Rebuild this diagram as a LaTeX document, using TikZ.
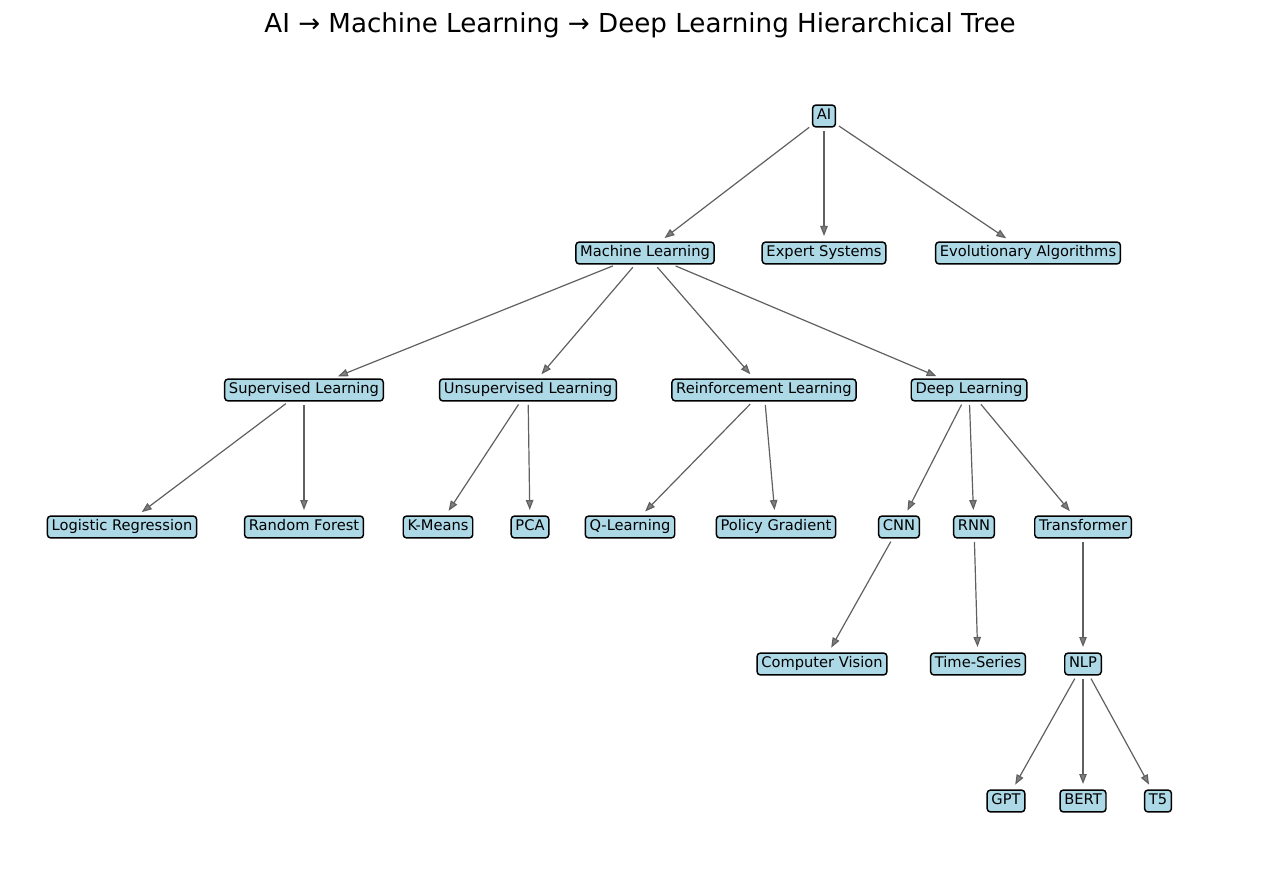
\documentclass[tikz,border=0pt]{standalone}
\usepackage{fontspec}
\setmainfont{DejaVu Sans}
\usetikzlibrary{arrows.meta}

\definecolor{boxblue}{HTML}{ADD8E6}
\definecolor{edgegray}{RGB}{96,96,96}

\tikzset{
  topic/.style={draw=black, fill=boxblue, line width=1.1pt, rounded corners=2.5pt,
    font=\fontsize{11}{13}\selectfont, inner xsep=3.2pt, inner ysep=3pt,
    text height=7.7pt, text depth=2.7pt},
  link/.style={draw=edgegray, line width=0.9pt, shorten <=2.5pt, shorten >=4pt,
    -{Triangle[length=7.5pt,width=5.6pt,fill=edgegray!80!white]}}
}

\begin{document}
\begin{tikzpicture}[x=0.75pt, y=-0.75pt]
\useasboundingbox (0,0) rectangle (1280,887);

\node at (640,25) {\fontsize{19.6}{23}\selectfont AI → Machine Learning → Deep Learning Hierarchical Tree};

% ( one row of nodes per level, y measured from the top )

\path[every node/.style={topic}]
(824,116) node(ai){AI}
(645,253) node(ml){Machine Learning}
(824,253) node(es){Expert Systems}
(1028,253) node(ea){Evolutionary Algorithms}
(304,390) node(sl){Supervised Learning}
(528,390) node(ul){Unsupervised Learning}
(764,390) node(rl){Reinforcement Learning}
(969,390) node(dl){Deep Learning}
(122,527) node(lr){Logistic Regression}
(304,527) node(rf){Random Forest}
(438,527) node(km){K-Means}
(530,527) node(pca){PCA}
(630,527) node(ql){Q-Learning}
(776,527) node(pg){Policy Gradient}
(899,527) node(cnn){CNN}
(974,527) node(rnn){RNN}
(1083,527) node(tf){Transformer}
(822,664) node(cv){Computer Vision}
(978,664) node(ts){Time-Series}
(1083,664) node(nlp){NLP}
(1006,801) node(gpt){GPT}
(1083,801) node(bert){BERT}
(1158,801) node(t5){T5};

\foreach \a/\b in {ai/ml, ai/es, ai/ea, ml/sl, ml/ul, ml/rl, ml/dl,
  sl/lr, sl/rf, ul/km, ul/pca, rl/ql, rl/pg, dl/cnn, dl/rnn, dl/tf,
  cnn/cv, rnn/ts, tf/nlp, nlp/gpt, nlp/bert, nlp/t5}
  \draw[link] (\a) -- (\b);
\end{tikzpicture}
\end{document}
